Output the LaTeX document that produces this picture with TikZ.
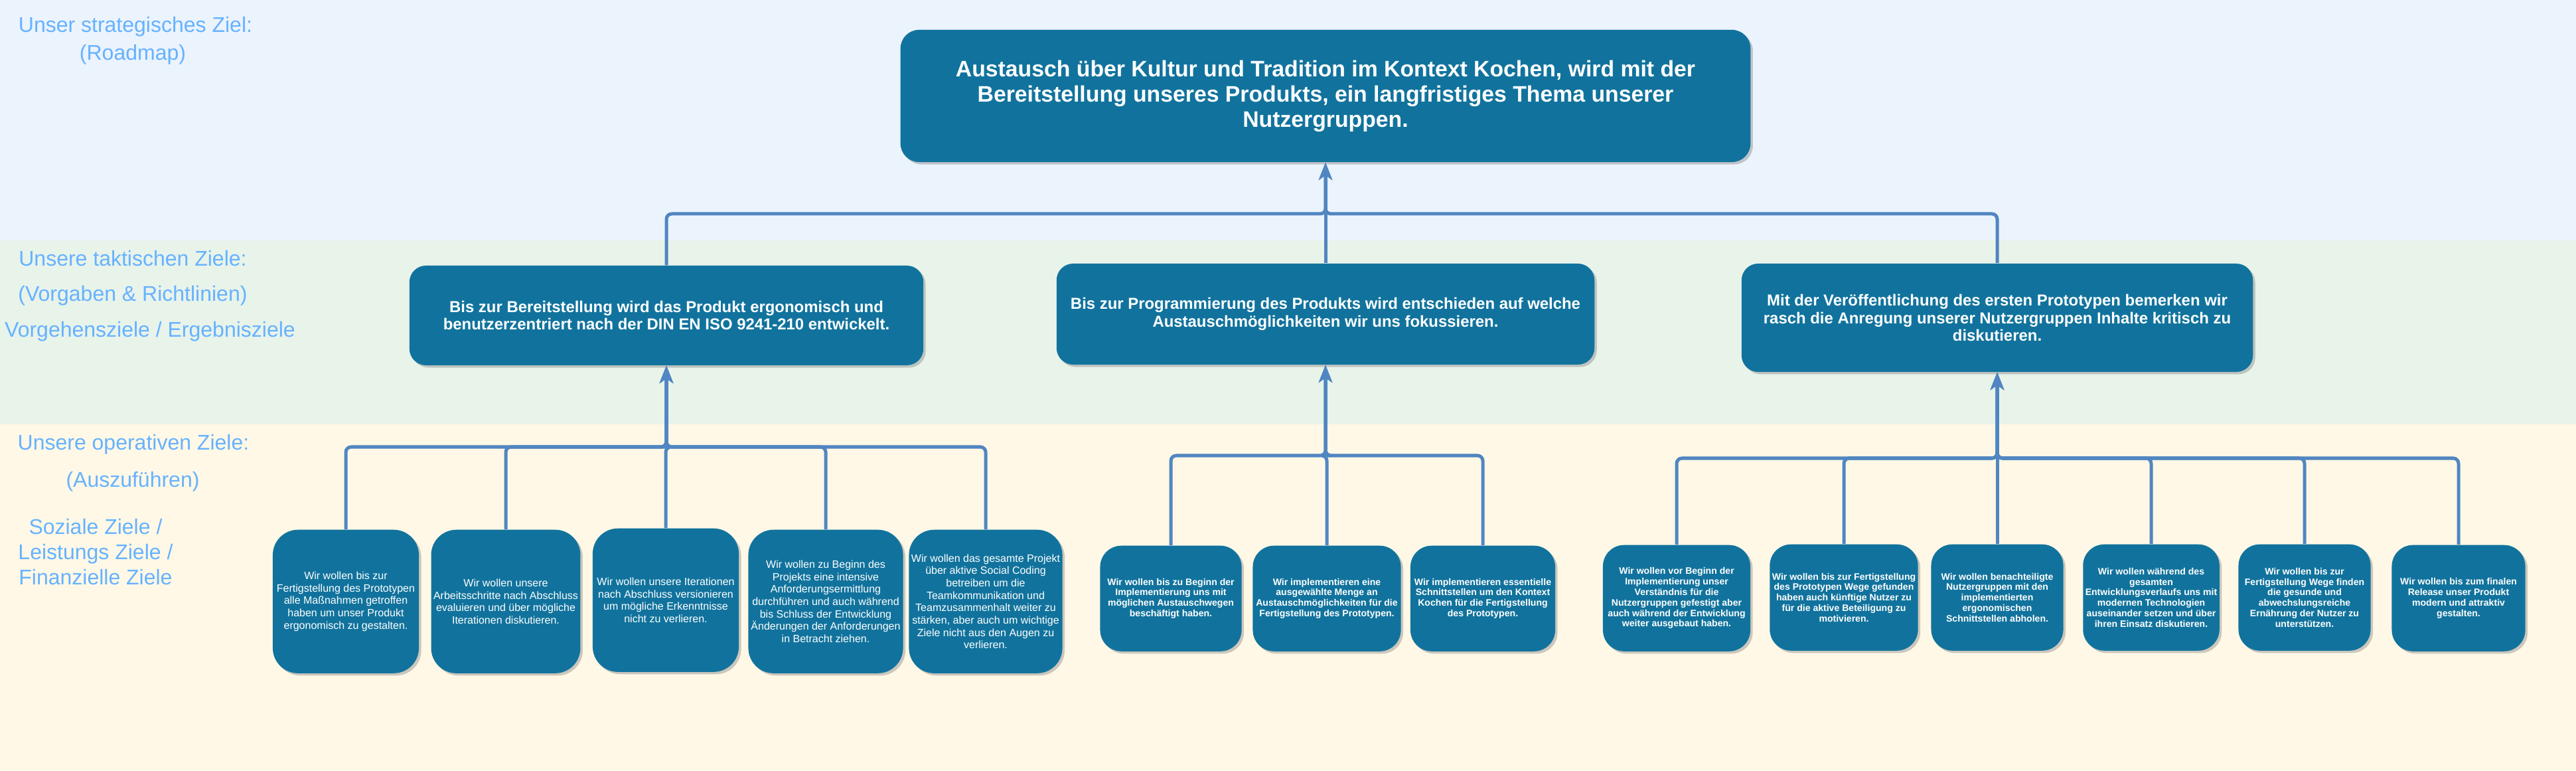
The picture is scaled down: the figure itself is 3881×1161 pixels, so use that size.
\documentclass[tikz,border=0pt]{standalone}
\usepackage{fontspec}
\setmainfont{Liberation Sans}
\usetikzlibrary{arrows.meta,shadows}
\definecolor{boxfill}{HTML}{11739D}
\definecolor{conncol}{HTML}{5086C1}
\definecolor{labcol}{HTML}{66B2FF}
\definecolor{bandblue}{HTML}{EBF3FD}
\definecolor{bandgreen}{HTML}{E8F3EA}
\definecolor{bandyellow}{HTML}{FFF8E6}
\tikzset{
  box/.style={fill=boxfill, text=white, align=center, inner sep=1pt,
    drop shadow={shadow xshift=0.035cm, shadow yshift=-0.035cm, fill=black!45, opacity=0.45}},
  topbox/.style={box, rounded corners=0.28cm, font=\bfseries\fontsize{9.6}{10.8}\selectfont},
  tacbox/.style={box, rounded corners=0.25cm, font=\bfseries\fontsize{6.8}{7.5}\selectfont},
  opbox/.style={box, rounded corners=0.38cm, minimum height=2.16cm, anchor=north, font=\fontsize{4.55}{5.3}\selectfont},
  opboldbox/.style={box, rounded corners=0.32cm, minimum height=1.6cm, anchor=north, font=\bfseries\fontsize{4.0}{4.5}\selectfont},
  lab/.style={text=labcol, align=center, inner sep=0pt, font=\fontsize{9.1}{10.9}\selectfont},
  conn/.style={draw=conncol, line width=0.05cm, rounded corners=0.08cm,
    -{Stealth[length=0.26cm,width=0.2cm,inset=0.07cm]}}
}
\begin{document}
\begin{tikzpicture}[x=0.01cm, y=-0.01cm]
\useasboundingbox (0,0) rectangle (3881,1161);
% bands
\fill[bandblue] (0,0) rectangle (3881,362);
\fill[bandgreen] (0,362) rectangle (3881,639);
\fill[bandyellow] (0,639) rectangle (3881,1161);

% left labels
\node[lab] (l1) at (204,40) {Unser strategisches Ziel:};
\node[lab] (l2) at (200,82) {(Roadmap)};
\node[lab] (l3) at (200,389) {Unsere taktischen Ziele:};
\node[lab] (l4) at (200,445) {(Vorgaben \& Richtlinien)};
\node[lab] (l5) at (226,499) {Vorgehensziele / Ergebnisziele};
\node[lab] (l6) at (201,669) {Unsere operativen Ziele:};
\node[lab] (l7) at (200,725) {(Auszuführen)};
\node[lab, font=\fontsize{9.1}{10.8}\selectfont] (l8) at (144,831) {Soziale Ziele /\\Leistungs Ziele /\\Finanzielle Ziele};

% bus coordinates
\coordinate (busTop) at (0,322);
\coordinate (busA) at (0,673);
\coordinate (busB) at (0,686);
\coordinate (busC) at (0,690);

% strategic
\node[topbox, minimum width=12.8cm, minimum height=1.99cm] (top) at (1997,144.5)
  {Austausch über Kultur und Tradition im Kontext Kochen, wird mit der\\Bereitstellung unseres Produkts, ein langfristiges Thema unserer\\Nutzergruppen.};

% tactical
\node[tacbox, minimum width=7.74cm, minimum height=1.5cm] (t1) at (1004,475)
  {Bis zur Bereitstellung wird das Produkt ergonomisch und\\benutzerzentriert nach der DIN EN ISO 9241-210 entwickelt.};
\node[tacbox, minimum width=8.1cm, minimum height=1.52cm] (t2) at (1997,473)
  {Bis zur Programmierung des Produkts wird entschieden auf welche\\Austauschmöglichkeiten wir uns fokussieren.};
\node[tacbox, minimum width=7.7cm, minimum height=1.63cm] (t3) at (3009,478.5)
  {Mit der Veröffentlichung des ersten Prototypen bemerken wir\\rasch die Anregung unserer Nutzergruppen Inhalte kritisch zu\\diskutieren.};

% operative group A
\node[opbox, minimum width=2.2cm] (c1) at (521,797)
  {Wir wollen bis zur\\Fertigstellung des Prototypen\\alle Maßnahmen getroffen\\haben um unser Produkt\\ergonomisch zu gestalten.};
\node[opbox, minimum width=2.2cm] (c2) at (762,797)
  {Wir wollen unsere\\Arbeitsschritte nach Abschluss\\evaluieren und über mögliche\\Iterationen diskutieren.};
\node[opbox, minimum width=2.2cm] (c3) at (1003,795)
  {Wir wollen unsere Iterationen\\nach Abschluss versionieren\\um mögliche Erkenntnisse\\nicht zu verlieren.};
\node[opbox, minimum width=2.33cm] (c4) at (1244,797)
  {Wir wollen zu Beginn des\\Projekts eine intensive\\Anforderungsermittlung\\durchführen und auch während\\bis Schluss der Entwicklung\\Änderungen der Anforderungen\\in Betracht ziehen.};
\node[opbox, minimum width=2.3cm] (c5) at (1485,797)
  {Wir wollen das gesamte Projekt\\über aktive Social Coding\\betreiben um die\\Teamkommunikation und\\Teamzusammenhalt weiter zu\\stärken, aber auch um wichtige\\Ziele nicht aus den Augen zu\\verlieren.};

% operative group B
\node[opboldbox, minimum width=2.13cm, minimum height=1.59cm] (d1) at (1764,821)
  {Wir wollen bis zu Beginn der\\Implementierung uns mit\\möglichen Austauschwegen\\beschäftigt haben.};
\node[opboldbox, minimum width=2.23cm, minimum height=1.59cm] (d2) at (1999,821)
  {Wir implementieren eine\\ausgewählte Menge an\\Austauschmöglichkeiten für die\\Fertigstellung des Prototypen.};
\node[opboldbox, minimum width=2.18cm, minimum height=1.59cm] (d3) at (2234,821)
  {Wir implementieren essentielle\\Schnittstellen um den Kontext\\Kochen für die Fertigstellung\\des Prototypen.};

% operative group C
\node[opboldbox, minimum width=2.22cm] (e1) at (2526,820)
  {Wir wollen vor Beginn der\\Implementierung unser\\Verständnis für die\\Nutzergruppen gefestigt aber\\auch während der Entwicklung\\weiter ausgebaut haben.};
\node[opboldbox, minimum width=2.19cm] (e2) at (2778,819)
  {Wir wollen bis zur Fertigstellung\\des Prototypen Wege gefunden\\haben auch künftige Nutzer zu\\für die aktive Beteiligung zu\\motivieren.};
\node[opboldbox, minimum width=1.99cm] (e3) at (3009,819)
  {Wir wollen benachteiligte\\Nutzergruppen mit den\\implementierten\\ergonomischen\\Schnittstellen abholen.};
\node[opboldbox, minimum width=2.01cm] (e4) at (3241,819)
  {Wir wollen während des\\gesamten\\Entwicklungsverlaufs uns mit\\modernen Technologien\\auseinander setzen und über\\ihren Einsatz diskutieren.};
\node[opboldbox, minimum width=1.99cm] (e5) at (3472,819)
  {Wir wollen bis zur\\Fertigstellung Wege finden\\die gesunde und\\abwechslungsreiche\\Ernährung der Nutzer zu\\unterstützen.};
\node[opboldbox, minimum width=2.01cm] (e6) at (3704,820)
  {Wir wollen bis zum finalen\\Release unser Produkt\\modern und attraktiv\\gestalten.};

% connectors: tactical -> strategic
\foreach \t in {t1,t2,t3}
  \draw[conn] (\t.north) -- (\t.north |- busTop) -| (top.south);
% operative -> tactical
\foreach \c in {c1,c2,c3,c4,c5}
  \draw[conn] (\c.north) -- (\c.north |- busA) -| (t1.south);
\foreach \c in {d1,d2,d3}
  \draw[conn] (\c.north) -- (\c.north |- busB) -| (t2.south);
\foreach \c in {e1,e2,e3,e4,e5,e6}
  \draw[conn] (\c.north) -- (\c.north |- busC) -| (t3.south);
\end{tikzpicture}
\end{document}
